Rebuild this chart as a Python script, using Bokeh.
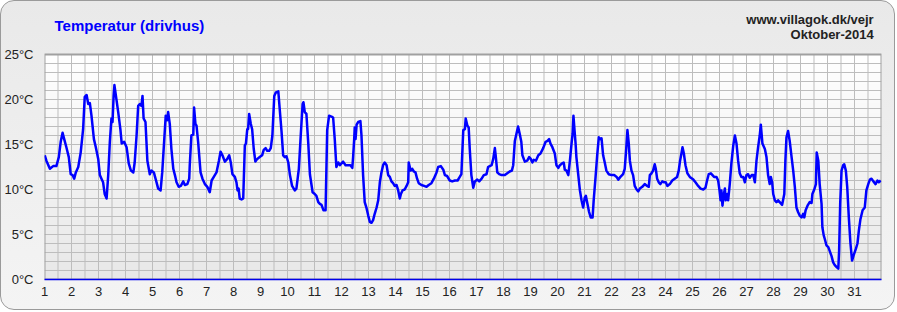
import numpy as np
from bokeh.plotting import figure
from bokeh.models import FixedTicker, PrintfTickFormatter, Label, Range1d
from bokeh.embed import file_html
from bokeh.resources import INLINE

# ---- data (day of month as fractional day, temperature in °C) ----
days = [
    1.01, 1.07, 1.20, 1.32, 1.44, 1.53, 1.60, 1.67, 1.73, 1.81, 1.90, 1.97,
    2.04, 2.10, 2.16, 2.25, 2.34, 2.43, 2.49, 2.56, 2.62, 2.68, 2.74, 2.83, 2.90, 2.99,
    3.05, 3.11, 3.17, 3.23, 3.30, 3.36, 3.42, 3.48, 3.52, 3.56, 3.59, 3.66, 3.73, 3.81, 3.86, 3.95,
    4.04, 4.12, 4.20, 4.29, 4.34, 4.41, 4.47, 4.53, 4.59, 4.63, 4.67, 4.74, 4.81, 4.90, 4.96,
    5.05, 5.15, 5.21, 5.30, 5.36, 5.43, 5.49, 5.54, 5.58, 5.64, 5.70, 5.77, 5.83, 5.89, 5.97,
    6.05, 6.14, 6.20, 6.29, 6.36, 6.38, 6.44, 6.51, 6.54, 6.59, 6.63, 6.69, 6.78, 6.85, 6.94,
    7.03, 7.12, 7.19, 7.27, 7.37, 7.46, 7.52, 7.59, 7.68, 7.77, 7.84, 7.90, 7.96,
    8.05, 8.11, 8.15, 8.19, 8.23, 8.30, 8.36, 8.42, 8.46, 8.51, 8.54, 8.58, 8.64, 8.69, 8.75, 8.81, 8.88, 8.97,
    9.06, 9.12, 9.19, 9.25, 9.32, 9.38, 9.44, 9.51, 9.57, 9.66, 9.71, 9.78, 9.84, 9.90, 9.96,
    10.03, 10.09, 10.17, 10.27, 10.33, 10.42, 10.49, 10.56, 10.59, 10.64, 10.70, 10.77, 10.83, 10.93,
    11.01, 11.07, 11.14, 11.20, 11.26, 11.33, 11.41, 11.47, 11.54, 11.63, 11.69, 11.75, 11.81, 11.88, 11.94,
    12.00, 12.06, 12.15, 12.25, 12.33, 12.40, 12.43, 12.47, 12.49, 12.52, 12.56, 12.62, 12.70, 12.74, 12.80, 12.86, 12.93, 12.99,
    13.05, 13.11, 13.17, 13.23, 13.30, 13.36, 13.42, 13.48, 13.54, 13.60, 13.67, 13.73, 13.79, 13.85, 13.91, 13.97,
    14.04, 14.10, 14.16, 14.20, 14.26, 14.34, 14.41, 14.47, 14.49, 14.56, 14.62, 14.68, 14.74, 14.80, 14.86, 14.96,
    15.06, 15.15, 15.23, 15.33, 15.42, 15.52, 15.58, 15.68, 15.77, 15.83, 15.91,
    16.01, 16.10, 16.20, 16.30, 16.38, 16.44, 16.51, 16.57, 16.60, 16.66, 16.71, 16.75, 16.81, 16.88, 16.94,
    17.03, 17.10, 17.19, 17.27, 17.37, 17.43, 17.49, 17.56, 17.62, 17.68, 17.71, 17.77, 17.84, 17.93,
    18.05, 18.14, 18.23, 18.31, 18.36, 18.42, 18.48, 18.54, 18.60, 18.66, 18.70, 18.79, 18.88, 18.95,
    19.01, 19.07, 19.12, 19.20, 19.29, 19.37, 19.47, 19.56, 19.63, 19.69, 19.74, 19.81, 19.90, 19.96,
    20.03, 20.09, 20.17, 20.23, 20.27, 20.33, 20.40, 20.46, 20.52, 20.56, 20.59, 20.63, 20.67, 20.70, 20.77, 20.83, 20.89, 20.95,
    21.01, 21.05, 21.11, 21.17, 21.23, 21.30, 21.34, 21.41, 21.47, 21.53, 21.59, 21.63, 21.69, 21.75, 21.81, 21.90,
    22.00, 22.10, 22.19, 22.25, 22.33, 22.43, 22.49, 22.54, 22.59, 22.64, 22.68, 22.74, 22.80, 22.86, 22.93, 22.99,
    23.05, 23.14, 23.23, 23.32, 23.38, 23.42, 23.48, 23.54, 23.60, 23.64, 23.69, 23.75, 23.81, 23.88, 23.95,
    24.01, 24.07, 24.16, 24.25, 24.34, 24.43, 24.49, 24.54, 24.59, 24.63, 24.68, 24.74, 24.81, 24.90,
    25.03, 25.11, 25.21, 25.30, 25.40, 25.48, 25.54, 25.60, 25.68, 25.74, 25.80, 25.89, 25.95,
    26.00, 26.04, 26.07, 26.11, 26.15, 26.20, 26.23, 26.29, 26.32, 26.38, 26.44, 26.51, 26.57, 26.63, 26.69, 26.75, 26.81, 26.88, 26.94,
    27.00, 27.06, 27.12, 27.19, 27.25, 27.31, 27.37, 27.43, 27.49, 27.53, 27.59, 27.68, 27.74, 27.80, 27.86, 27.90, 27.95, 27.99,
    28.05, 28.11, 28.17, 28.23, 28.32, 28.40, 28.44, 28.48, 28.54, 28.60, 28.67, 28.73, 28.79, 28.85, 28.91, 28.97,
    29.04, 29.10, 29.14, 29.19, 29.26, 29.34, 29.41, 29.44, 29.51, 29.57, 29.60, 29.66, 29.71, 29.78, 29.81, 29.86, 29.90, 29.96,
    30.03, 30.09, 30.15, 30.21, 30.27, 30.33, 30.40, 30.43, 30.47, 30.52, 30.58, 30.62, 30.68, 30.73, 30.79, 30.85, 30.91, 30.97,
    31.05, 31.11, 31.16, 31.22, 31.30, 31.38, 31.44, 31.51, 31.57, 31.63, 31.70, 31.78, 31.85, 31.90, 31.97,
]
temps = [
    13.8, 13.2, 12.3, 12.6, 12.6, 13.6, 15.3, 16.3, 15.6, 14.7, 13.6, 11.7,
    11.6, 11.2, 11.9, 12.5, 14.1, 16.7, 20.3, 20.5, 19.5, 19.6, 18.2, 15.6, 14.7, 13.4,
    11.6, 11.2, 10.8, 9.5, 9.0, 11.6, 15.3, 17.9, 17.5, 20.4, 21.6, 20.1, 18.6, 16.7, 15.1, 15.3,
    14.7, 12.9, 12.1, 11.9, 13.0, 16.0, 19.3, 19.5, 19.3, 20.4, 17.9, 17.5, 13.2, 11.7, 12.1,
    11.9, 10.8, 10.1, 9.9, 11.9, 15.3, 18.2, 17.7, 18.6, 17.3, 14.5, 12.3, 11.6, 10.8, 10.3,
    10.4, 10.9, 10.5, 10.6, 11.2, 12.7, 16.0, 16.1, 19.1, 17.3, 17.1, 15.3, 11.9, 11.2, 10.6,
    10.3, 9.7, 11.0, 11.4, 11.9, 13.2, 14.2, 13.8, 13.1, 13.4, 13.8, 13.0, 11.7,
    11.4, 10.8, 9.9, 10.1, 9.0, 8.9, 9.0, 14.9, 15.1, 16.7, 16.7, 18.4, 17.3, 16.7, 14.5, 13.1, 13.4, 13.6,
    13.8, 14.4, 14.6, 14.3, 14.3, 14.6, 16.0, 20.4, 20.8, 20.9, 19.0, 16.4, 13.8, 13.6, 13.7,
    13.0, 11.6, 10.4, 9.9, 10.1, 12.3, 16.0, 19.5, 19.7, 18.6, 18.4, 15.1, 11.7, 9.7,
    9.5, 9.3, 8.6, 8.4, 8.3, 7.7, 7.7, 16.6, 18.2, 18.1, 18.0, 15.6, 12.5, 13.0, 12.7,
    12.9, 13.1, 12.7, 12.7, 12.7, 12.4, 13.6, 15.6, 16.9, 15.6, 17.2, 17.5, 17.6, 16.0, 11.6, 8.6, 7.9, 7.1,
    6.4, 6.3, 6.6, 7.3, 8.0, 8.8, 10.8, 11.9, 12.7, 13.0, 12.7, 11.6, 11.4, 10.9, 10.7, 10.4,
    10.5, 9.9, 9.0, 9.5, 9.9, 10.0, 10.4, 10.8, 13.0, 12.1, 12.3, 12.0, 11.9, 11.2, 10.7, 10.5,
    10.4, 10.3, 10.5, 10.7, 11.2, 11.9, 12.5, 12.6, 12.2, 11.6, 11.5,
    11.0, 10.9, 11.0, 11.0, 11.4, 11.7, 16.6, 16.7, 17.9, 17.1, 16.9, 14.5, 11.6, 10.2, 10.9,
    11.1, 10.9, 11.2, 11.6, 11.7, 12.5, 12.6, 12.7, 13.4, 14.6, 13.8, 11.9, 11.7, 11.6,
    11.6, 11.8, 12.0, 12.1, 12.7, 15.4, 16.2, 17.0, 16.2, 15.3, 13.8, 13.1, 13.2, 13.6,
    13.4, 13.0, 13.3, 13.2, 13.8, 14.0, 14.6, 15.3, 15.4, 15.6, 15.1, 14.7, 14.0, 12.7,
    12.4, 12.7, 12.9, 13.0, 12.2, 12.1, 11.6, 13.2, 15.1, 16.2, 18.2, 16.6, 15.1, 13.6, 11.6, 9.9, 8.8, 8.0,
    9.1, 9.3, 8.4, 7.5, 6.9, 6.9, 8.8, 11.4, 13.8, 15.8, 15.6, 15.7, 13.8, 13.0, 12.1, 11.7,
    11.6, 11.6, 11.4, 11.1, 11.4, 11.7, 12.3, 14.3, 16.6, 15.1, 13.2, 12.1, 11.6, 10.4, 10.0, 9.8,
    10.1, 10.3, 10.6, 10.4, 10.3, 11.6, 11.8, 12.1, 12.8, 12.3, 11.2, 10.8, 10.6, 10.9, 10.8,
    10.8, 10.4, 10.6, 11.0, 11.2, 11.4, 12.1, 13.2, 14.0, 14.7, 14.0, 12.7, 11.8, 11.4,
    11.1, 10.8, 10.4, 10.1, 10.0, 10.2, 11.0, 11.7, 11.8, 11.6, 11.4, 11.4, 11.0,
    9.9, 8.8, 9.9, 8.2, 9.3, 10.1, 8.8, 9.5, 8.8, 10.6, 12.9, 14.9, 16.0, 15.1, 13.2, 11.8, 11.4, 11.4, 10.8,
    11.6, 11.7, 11.3, 11.6, 11.6, 10.8, 13.2, 14.7, 16.0, 17.2, 15.1, 14.5, 13.6, 11.6, 10.6, 11.4, 10.8, 9.5,
    8.8, 8.6, 8.8, 8.6, 8.3, 9.5, 13.2, 15.8, 16.5, 15.4, 13.6, 12.1, 10.3, 8.0, 7.5, 7.1,
    6.9, 7.3, 6.9, 7.7, 8.2, 8.6, 8.5, 9.5, 10.0, 10.6, 14.1, 13.2, 10.6, 8.4, 5.8, 4.9, 4.5, 3.8,
    3.6, 3.1, 2.6, 1.9, 1.6, 1.4, 1.2, 3.2, 8.4, 12.1, 12.7, 12.8, 12.1, 10.3, 6.9, 4.0, 2.1, 2.7,
    3.4, 4.0, 5.4, 6.7, 7.7, 8.0, 9.9, 10.6, 11.1, 11.2, 10.9, 10.6, 11.0, 10.8, 11.0,
]
x_ticks = list(range(1, 32))
y_ticks = [0, 5, 10, 15, 20, 25]
x_grid = [1.5 + 0.5 * i for i in range(61)]
y_grid = list(range(1, 25))
title_text = "Temperatur (drivhus)"
site_text = "www.villagok.dk/vejr"
month_text = "Oktober-2014"

FONT = "Liberation Sans"
X0, X1, Y0, Y1 = 1, 32, 0, 25

p = figure(
    width=895, height=310,
    x_range=Range1d(X0, X1), y_range=Range1d(Y0, 278 / 9),
    output_backend="svg", toolbar_location=None,
    min_border_left=42, min_border_right=15,
    min_border_top=0, min_border_bottom=32,
)
p.styles = {
    "border": "1px solid #9a9a9a",
    "border-radius": "14px",
    "background": "linear-gradient(to bottom, #e9e9e9 0%, #f4f4f4 100%)",
    "overflow": "hidden",
}
p.border_fill_color = None
p.background_fill_color = None
p.outline_line_color = None
p.xgrid.visible = False
p.ygrid.visible = False

# plot-area gradient (white at top -> light gray at bottom)
n = 225
shade = np.linspace(232, 255, n).astype(np.uint8)
img = np.zeros((n, 1), dtype=np.uint32)
view = img.view(dtype=np.uint8).reshape((n, 1, 4))
view[:, 0, 0] = shade
view[:, 0, 1] = shade
view[:, 0, 2] = shade
view[:, 0, 3] = 255
p.image_rgba(image=[img], x=X0, y=Y0, dw=X1 - X0, dh=Y1 - Y0, level="image")

# grid lines (only inside the plot area)
p.segment(x0=x_grid, y0=[Y0] * len(x_grid), x1=x_grid, y1=[Y1] * len(x_grid),
          line_color="#bdbdbd", line_width=1, level="underlay")
p.segment(x0=[X0] * len(y_grid), y0=y_grid, x1=[X1] * len(y_grid), y1=y_grid,
          line_color="#bdbdbd", line_width=1, level="underlay")
# plot-area frame
p.quad(left=[X0], right=[X1], bottom=[Y0], top=[Y1], fill_color=None,
       line_color="#a0a0a0", line_width=2, level="underlay")

# axes
p.xaxis.ticker = FixedTicker(ticks=x_ticks)
p.yaxis.ticker = FixedTicker(ticks=y_ticks)
p.yaxis.formatter = PrintfTickFormatter(format="%d°C")
for ax in (p.xaxis[0], p.yaxis[0]):
    ax.major_tick_line_color = None
    ax.minor_tick_line_color = None
    ax.major_tick_out = 0
    ax.major_tick_in = 0
    ax.major_label_text_font = FONT
    ax.major_label_text_font_size = "13px"
    ax.major_label_text_color = "#222222"
p.xaxis.axis_line_color = "#0000ee"
p.xaxis.axis_line_width = 1.5
p.yaxis.axis_line_color = None
p.xaxis.major_label_standoff = 7
p.yaxis.major_label_standoff = 11

p.line(days, temps, line_color="#0000ff", line_width=2.5, line_join="round")

p.add_layout(Label(x=1.37, y=28.22, text=title_text, text_font=FONT,
                   text_font_size="15px", text_font_style="bold",
                   text_color="#0000ff", text_baseline="middle", text_align="left"))
p.add_layout(Label(x=31.71, y=28.89, text=site_text, text_font=FONT,
                   text_font_size="13px", text_font_style="bold",
                   text_color="#222222", text_baseline="middle", text_align="right"))
p.add_layout(Label(x=31.71, y=27.22, text=month_text, text_font=FONT,
                   text_font_size="13px", text_font_style="bold",
                   text_color="#222222", text_baseline="middle", text_align="right"))

open("out.html", "w").write(file_html(p, INLINE))
